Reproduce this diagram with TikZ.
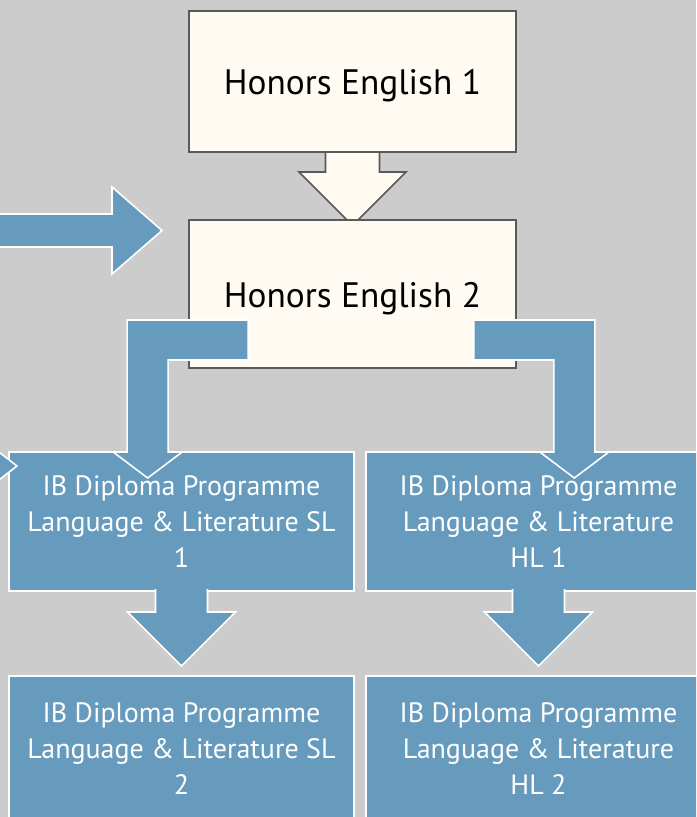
\documentclass[tikz,border=0pt]{standalone}
\usepackage{fontspec}
\setmainfont{PT Sans}
\usetikzlibrary{positioning, calc, backgrounds}

\definecolor{pagegray}{HTML}{CCCCCC}
\definecolor{cream}{HTML}{FFFAF2}
\definecolor{edgegray}{HTML}{595959}
\definecolor{ibblue}{HTML}{669BBD}

\begin{document}
\begin{tikzpicture}[
    x=0.75pt, y=-0.75pt,
    honorsbox/.style={fill=cream, draw=edgegray, line width=1.5pt, outer sep=0pt, inner sep=0pt,
        minimum width=245pt, text height=25pt, text depth=5.5pt, font=\fontsize{26.5}{31}\selectfont},
    ibbox/.style={fill=ibblue, draw=white, line width=1.2pt, outer sep=0pt, inner sep=0pt,
        text=white, align=center, minimum width=258.75pt, font=\fontsize{21}{27}\selectfont},
    blockarrow/.style={fill=ibblue, draw=white, line width=1.2pt},
    hollowarrow/.style={fill=cream, draw=edgegray, line width=1.2pt}
]
\useasboundingbox (0,0) rectangle (696,817);
\clip (0,0) rectangle (696,817);
\begin{scope}[on background layer]
  \fill[pagegray] (0,0) rectangle (696,817);
\end{scope}

% Nodes
\node[honorsbox, minimum height=105.75pt] (honors1) at (352.5,81.5) {Honors English 1};
\node[honorsbox, minimum height=111pt, below=51pt of honors1] (honors2) {Honors English 2};
\node[ibbox, minimum height=104.25pt] (sl1) at (181.5,521.5) {IB Diploma Programme\\Language \& Literature SL\\1};
\node[ibbox, minimum height=104.25pt, right=9pt of sl1] (hl1) {IB Diploma Programme\\Language \& Literature\\HL 1};
\node[ibbox, minimum height=108.75pt, below=63.75pt of sl1] (sl2) {IB Diploma Programme\\Language \& Literature SL\\2};
\node[ibbox, minimum height=108.75pt, below=63.75pt of hl1] (hl2) {IB Diploma Programme\\Language \& Literature\\HL 2};
\coordinate (feed) at (162,230.5);
\coordinate (sltip) at (17,466);
\coordinate (lbar) at ($(honors2.south west)+(-62,-48)$);
\coordinate (rbar) at ($(honors2.south east)+(79,-48)$);

% Paths
\begin{scope}[on background layer]
  \draw[hollowarrow] ($(honors1.south)+(-27,-3)$) -- ++(0,23) -- ++(-26.5,0)
    -- ($(honors2.north)+(0,5.5)$) -- ($(honors1.south)+(53.5,20)$) -- ++(-26.5,0) -- ++(0,-23);
\end{scope}
\draw[blockarrow] ($(feed)+(-175,-16.5)$) -- ($(feed)+(-50,-16.5)$) -- ($(feed)+(-50,-43.5)$)
  -- (feed) -- ($(feed)+(-50,43.5)$) -- ($(feed)+(-50,16.5)$) -- ($(feed)+(-175,16.5)$) -- cycle;
\draw[blockarrow] ($(sltip)+(-40,-31)$) -- (sltip) -- ($(sltip)+(-40,31)$) -- cycle;
\draw[blockarrow] ($(honors2.south west)+(59,-48)$) -- (lbar) -- (lbar |- sl1.north) -- ++(-14,0)
  -- ++(34.5,26) -- ++(34.5,-26) -- ++(-14,0) -- ($(honors2.south west)+(-21,-8)$)
  -- ($(honors2.south west)+(59,-8)$) -- cycle;
\draw[blockarrow] ($(honors2.south east)+(-42,-48)$) -- (rbar) -- (rbar |- hl1.north) -- ++(14,0)
  -- ++(-34.5,26) -- ++(-34.5,-26) -- ++(14,0) -- ($(honors2.south east)+(38,-8)$)
  -- ($(honors2.south east)+(-42,-8)$) -- cycle;
\draw[blockarrow] ($(sl1.south)+(-26,-2)$) -- ++(0,23) -- ++(-28,0) -- ($(sl2.north)+(0,-10)$)
  -- ($(sl1.south)+(54,21)$) -- ++(-28,0) -- ++(0,-23);
\draw[blockarrow] ($(hl1.south)+(-26,-2)$) -- ++(0,23) -- ++(-28,0) -- ($(hl2.north)+(0,-10)$)
  -- ($(hl1.south)+(54,21)$) -- ++(-28,0) -- ++(0,-23);

\end{tikzpicture}
\end{document}
